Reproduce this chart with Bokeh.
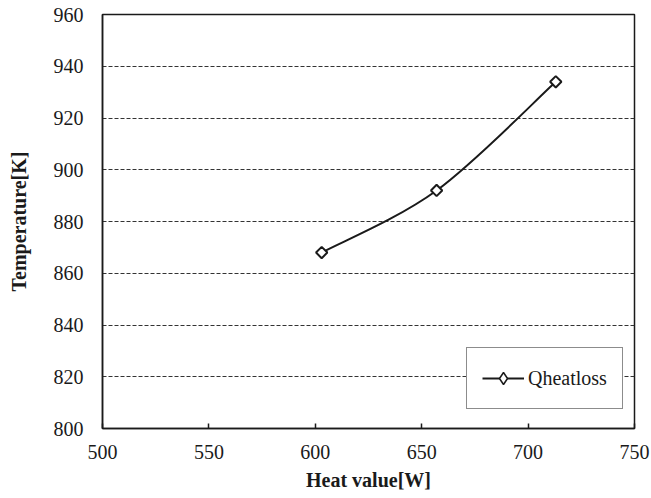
import numpy as np
from bokeh.plotting import figure
from bokeh.models import Range1d, FixedTicker, Legend, LegendItem
from bokeh.embed import file_html
from bokeh.resources import INLINE

# Data
heat_value = [603, 657, 713]          # W
temperature = [868, 892, 934]         # K
series_name = "Qheatloss"

x_ticks = [500, 550, 600, 650, 700, 750]
y_ticks = [800, 820, 840, 860, 880, 900, 920, 940, 960]

FONT = "Liberation Serif"
INK = "#1a1a1a"

p = figure(width=651, height=498, output_backend="svg", toolbar_location=None,
           x_range=Range1d(500, 750), y_range=Range1d(800, 960),
           min_border_left=102, min_border_right=17, min_border_top=14, min_border_bottom=70)

p.background_fill_color = "white"
p.border_fill_color = "white"
p.outline_line_color = INK
p.outline_line_width = 1.5

# Axes
p.xaxis.ticker = FixedTicker(ticks=x_ticks)
p.yaxis.ticker = FixedTicker(ticks=y_ticks)
for ax in p.xaxis + p.yaxis:
    ax.axis_line_color = INK
    ax.axis_line_width = 1.5
    ax.major_label_text_font = FONT
    ax.major_label_text_font_size = "20px"
    ax.major_label_text_color = INK
    ax.axis_label_text_font = FONT
    ax.axis_label_text_font_size = "20px"
    ax.axis_label_text_font_style = "bold"
    ax.axis_label_text_color = INK
    ax.minor_tick_line_color = None

p.xaxis.axis_label = "Heat value[W]"
p.xaxis.major_tick_in = 5
p.xaxis.major_tick_out = 0
p.xaxis.major_tick_line_color = INK
p.xaxis.major_tick_line_width = 1.5
p.xaxis.major_label_standoff = 16
p.xaxis.axis_label_standoff = 7

p.yaxis.axis_label = "Temperature[K]"
p.yaxis.major_tick_line_color = None
p.yaxis.major_tick_in = 0
p.yaxis.major_tick_out = 0
p.yaxis.major_label_standoff = 19
p.yaxis.axis_label_standoff = 21

# Grid: dashed horizontal lines only
p.xgrid.grid_line_color = None
p.ygrid.grid_line_color = "#333333"
p.ygrid.grid_line_dash = "4 2"
p.ygrid.grid_line_width = 1.2

# Smoothed line through the points (cubic Bezier segments, Catmull-Rom control points)
n = len(heat_value)
x0, y0, x1, y1, cx0, cy0, cx1, cy1 = [], [], [], [], [], [], [], []
for i in range(n - 1):
    xp = heat_value[max(i - 1, 0)]
    yp = temperature[max(i - 1, 0)]
    xn = heat_value[min(i + 2, n - 1)]
    yn = temperature[min(i + 2, n - 1)]
    xa, ya = heat_value[i], temperature[i]
    xb, yb = heat_value[i + 1], temperature[i + 1]
    x0.append(xa); y0.append(ya); x1.append(xb); y1.append(yb)
    cx0.append(xa + (xb - xp) / 6.0); cy0.append(ya + (yb - yp) / 6.0)
    cx1.append(xb - (xn - xa) / 6.0); cy1.append(yb - (yn - ya) / 6.0)

p.bezier(x0=x0, y0=y0, x1=x1, y1=y1, cx0=cx0, cy0=cy0, cx1=cx1, cy1=cy1,
         line_color=INK, line_width=2)

# Legend samples: a single-point line (draws nothing on the plot) and a small
# diamond hidden beneath the first data marker
legend_sample = p.line(x=heat_value[:1], y=temperature[:1], line_color=INK, line_width=2)
legend_diamond = p.scatter(x=heat_value[:1], y=temperature[:1], marker="diamond", size=9,
                           fill_color="white", line_color=INK, line_width=1.5)

# Open diamonds: squares turned by 45 degrees
markers = p.scatter(x=heat_value, y=temperature, marker="square", angle=np.pi / 4,
                    size=8, fill_color="white", line_color=INK, line_width=2)

legend = Legend(items=[LegendItem(label=series_name, renderers=[legend_sample, legend_diamond])],
                location=(364, 19))
legend.label_text_font = FONT
legend.label_text_font_size = "20px"
legend.label_text_color = INK
legend.glyph_width = 42
legend.glyph_height = 30
legend.label_height = 30
legend.label_standoff = 4
legend.padding = 15
legend.spacing = 0
legend.margin = 0
legend.border_line_color = INK
legend.border_line_width = 1.5
legend.background_fill_color = "white"
legend.background_fill_alpha = 1.0
p.add_layout(legend, "center")

open("out.html", "w").write(file_html(p, INLINE))
